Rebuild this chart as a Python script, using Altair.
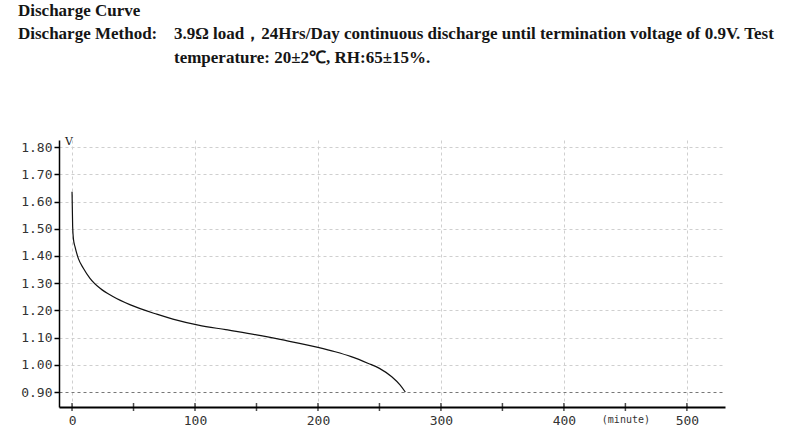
import altair as alt
import pandas as pd

# ---- data ----
minutes = [0, 0.5, 1.2, 2.4, 5.1, 9.2, 14.6, 22.8, 33.6, 47, 68.9, 82, 102.7,
           125, 150, 175, 185, 200, 214, 227, 241, 250, 260, 266.7, 271]
volts = [1.636, 1.508, 1.46, 1.434, 1.391, 1.355, 1.318, 1.281, 1.25, 1.221, 1.186,
         1.168, 1.146, 1.129, 1.11, 1.088, 1.079, 1.064, 1.048, 1.03, 1.005, 0.987,
         0.956, 0.926, 0.90]

y_ticks = [0.9, 1.0, 1.1, 1.2, 1.3, 1.4, 1.5, 1.6, 1.7, 1.8]
x_ticks = [0, 50, 100, 150, 200, 250, 300, 350, 400, 450, 500]

title_text = "Discharge Curve"
method_label = "Discharge Method:"
method_line1 = "3.9Ω load，24Hrs/Day continuous discharge until termination voltage of 0.9V. Test"
method_line2 = "temperature: 20±2℃, RH:65±15%."
y_unit = "V"

X_DOM = [-10.6, 531]
Y_DOM = [0.845, 1.826]

PAD_L, PAD_T, PAD_R, PAD_B = 59, 140, 75, 28
W, H = 800 - PAD_L - PAD_R, 435 - PAD_T - PAD_B

df = pd.DataFrame({"t": minutes, "v": volts})
xs = alt.Scale(domain=X_DOM, nice=False, zero=False)
ys = alt.Scale(domain=Y_DOM, nice=False, zero=False)

x_axis = alt.Axis(
    values=x_ticks, title=None, grid=True, gridDash=[3, 3], gridColor="#cfcfcf",
    gridOpacity={"condition": {"test": "datum.value % 100 != 0", "value": 0}, "value": 1},
    ticks=False, domainColor="black", domainWidth=2,
    labelExpr="datum.value % 100 == 0 ? datum.label : (datum.value == 450 ? '(minute)' : '')",
    labelFont="DejaVu Sans Mono",
    labelFontSize={"condition": {"test": "datum.value == 450", "value": 10}, "value": 13},
    labelColor="#333", labelPadding=7, labelOverlap=False, labelFlush=False,
)
y_axis = alt.Axis(
    values=y_ticks, format=".2f", title=None, grid=True, gridDash=[3, 3],
    gridColor={"condition": {"test": "abs(datum.value - 0.9) < 0.001", "value": "#777777"},
               "value": "#cfcfcf"},
    domainColor="black", domainWidth=1.5, tickColor="black", tickWidth=1.5, tickSize=5,
    labelFont="DejaVu Sans Mono", labelFontSize=13, labelColor="#333", labelPadding=2,
    labelOverlap=False, labelFlush=False, tickCount=10,
)

curve = alt.Chart(df).mark_line(color="#111111", strokeWidth=1.2, interpolate="monotone").encode(
    x=alt.X("t:Q", scale=xs, axis=x_axis),
    y=alt.Y("v:Q", scale=ys, axis=y_axis),
)

ticks = alt.Chart(pd.DataFrame({"t": x_ticks})).mark_tick(
    color="black", thickness=1.5, size=8, orient="vertical"
).encode(
    x=alt.X("t:Q", scale=xs, axis=x_axis),
    y=alt.datum(Y_DOM[0], type="quantitative", scale=ys, axis=y_axis),
)

def label(txt, x, y, size=17, font="Liberation Serif", weight="bold", color="#151515"):
    return alt.Chart(pd.DataFrame({"s": [txt]})).mark_text(
        align="left", baseline="alphabetic", font=font, fontSize=size,
        fontWeight=weight, color=color
    ).encode(text="s:N", x=alt.value(x - PAD_L), y=alt.value(y - PAD_T))

texts = [
    label(title_text, 18, 16),
    label(method_label, 18, 39),
    label(method_line1, 174, 39),
    label(method_line2, 174, 63),
    label(y_unit, 65, 145, size=11, font="DejaVu Serif", weight="normal"),
]

chart = alt.layer(curve, ticks, *texts).properties(
    width=W, height=H,
    padding={"left": PAD_L, "top": PAD_T, "right": PAD_R, "bottom": PAD_B},
    autosize=alt.AutoSizeParams(type="none"),
    background="white",
).configure_view(stroke=None)

chart.save("out.html", embed_options={"renderer": "svg", "actions": False})
